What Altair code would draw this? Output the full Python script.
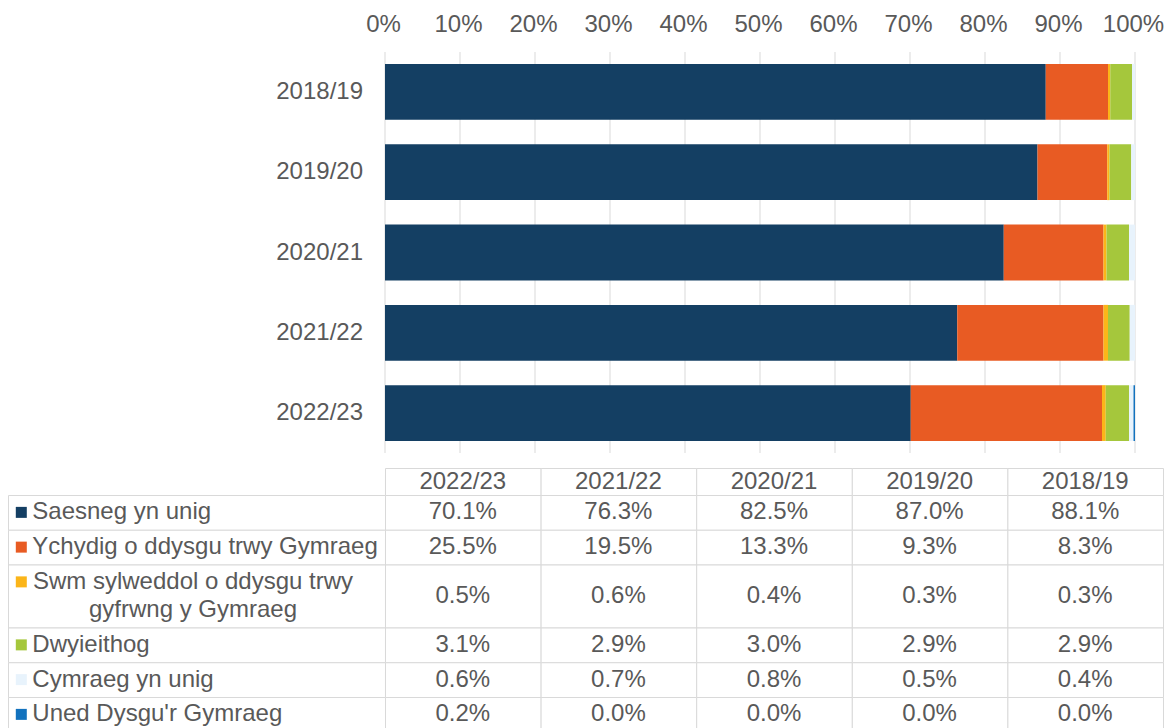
import altair as alt
import pandas as pd

# ---------------- data ----------------
bar_years = ["2018/19", "2019/20", "2020/21", "2021/22", "2022/23"]      # top -> bottom
table_years = ["2022/23", "2021/22", "2020/21", "2019/20", "2018/19"]    # table column order

series = [
    "Saesneg yn unig",
    "Ychydig o ddysgu trwy Gymraeg",
    "Swm sylweddol o ddysgu trwy gyfrwng y Gymraeg",
    "Dwyieithog",
    "Cymraeg yn unig",
    "Uned Dysgu'r Gymraeg",
]
series_labels = [
    "Saesneg yn unig",
    "Ychydig o ddysgu trwy Gymraeg",
    "Swm sylweddol o ddysgu trwy\ngyfrwng y Gymraeg",
    "Dwyieithog",
    "Cymraeg yn unig",
    "Uned Dysgu'r Gymraeg",
]
colors = ["#143F63", "#E85B23", "#FBB519", "#A5C73C", "#E8F3FC", "#1272BE"]

# values (%) in table_years order
saesneg = [70.1, 76.3, 82.5, 87.0, 88.1]
ychydig = [25.5, 19.5, 13.3, 9.3, 8.3]
swm = [0.5, 0.6, 0.4, 0.3, 0.3]
dwyieithog = [3.1, 2.9, 3.0, 2.9, 2.9]
cymraeg = [0.6, 0.7, 0.8, 0.5, 0.4]
uned = [0.2, 0.0, 0.0, 0.0, 0.0]
all_values = [saesneg, ychydig, swm, dwyieithog, cymraeg, uned]

tick_values = [0, 10, 20, 30, 40, 50, 60, 70, 80, 90, 100]
tick_labels = ["0%", "10%", "20%", "30%", "40%", "50%", "60%", "70%", "80%", "90%", "100%"]

# ---------------- style / layout ----------------
FONT = "Liberation Sans"
FS = 24
TXT = "#595959"
LINE = "#D9D9D9"
W, H = 1156, 720

BAR_X = [377, 1127]
BAR_Y = [44, 445]
GRID_TOP, GRID_BOT = 44, 445

LABEL_W = 377
COL_W = 155.6
HEAD_TOP = 460
HEAD_H = 27
ROW_H = 34.75
EXTRA_LINE = 28.25
KEY_X = 13.3
TEXT_X = 24.3
MULTI_X = 185

# ---------------- tables ----------------
bars = pd.DataFrame([
    {"year": table_years[j], "series": s, "order": i, "value": all_values[i][j] / 100}
    for i, s in enumerate(series) for j in range(len(table_years))
])
grid = pd.DataFrame({"t": [v / 100 for v in tick_values], "label": tick_labels})
cats = pd.DataFrame({"year": bar_years})

cells, htext, vtext, labels = [], [], [], []
for j, yr in enumerate(table_years):
    x0 = LABEL_W + j * COL_W
    cells.append({"x0": x0 + 0.5, "x1": x0 + COL_W + 0.5, "y0": HEAD_TOP + 0.5, "y1": HEAD_TOP + HEAD_H + 0.5})
    htext.append({"x": x0 + COL_W / 2, "y": HEAD_TOP + HEAD_H / 2, "text": yr})
top = HEAD_TOP + HEAD_H
for i, s in enumerate(series):
    nlines = series_labels[i].count("\n") + 1
    h = ROW_H + (nlines - 1) * EXTRA_LINE
    yc = top + h / 2
    cells.append({"x0": 0.5, "x1": LABEL_W + 0.5, "y0": top + 0.5, "y1": top + h + 0.5})
    for j, yr in enumerate(table_years):
        x0 = LABEL_W + j * COL_W
        cells.append({"x0": x0 + 0.5, "x1": x0 + COL_W + 0.5, "y0": top + 0.5, "y1": top + h + 0.5})
        vtext.append({"x": x0 + COL_W / 2, "y": yc, "value": all_values[i][j] / 100})
    labels.append({"series": s, "label": series_labels[i], "lines": nlines,
                   "y": yc - (nlines - 1) * EXTRA_LINE / 2})
    top += h
cells = pd.DataFrame(cells)
htext = pd.DataFrame(htext)
vtext = pd.DataFrame(vtext)
labels = pd.DataFrame(labels)

xbar = alt.Scale(domain=[0, 1], range=BAR_X, nice=False, zero=False)
ybar = alt.Scale(domain=bar_years, range=BAR_Y, paddingInner=0.305, paddingOuter=0.15)
cscale = alt.Scale(domain=series, range=colors)

# ---------------- layers ----------------
grid_l = alt.Chart(grid).mark_rule(color=LINE, strokeWidth=1).encode(
    x=alt.X("t:Q", scale=xbar, axis=None),
    y=alt.value(GRID_TOP), y2=alt.value(GRID_BOT),
)
bar_l = alt.Chart(bars).mark_bar().encode(
    x=alt.X("value:Q", stack="zero", scale=xbar, axis=None),
    y=alt.Y("year:N", scale=ybar, axis=None),
    color=alt.Color("series:N", scale=cscale, legend=None),
    order=alt.Order("order:Q"),
)
tick_l = alt.Chart(grid).mark_text(font=FONT, fontSize=FS, color=TXT, baseline="alphabetic", dx=-1.5).encode(
    x=alt.X("t:Q", scale=xbar, axis=None),
    y=alt.value(24),
    text="label:N",
)
cat_l = alt.Chart(cats).mark_text(font=FONT, fontSize=FS, color=TXT, align="right", baseline="middle").encode(
    x=alt.value(355),
    y=alt.Y("year:N", scale=ybar, axis=None),
    text="year:N",
)
cell_l = alt.Chart(cells).mark_rect(fill="white", stroke=LINE, strokeWidth=1).encode(
    x=alt.X("x0:Q", scale=None), x2="x1:Q",
    y=alt.Y("y0:Q", scale=None), y2="y1:Q",
)
head_l = alt.Chart(htext).mark_text(font=FONT, fontSize=FS, color=TXT, baseline="middle").encode(
    x=alt.X("x:Q", scale=None), y=alt.Y("y:Q", scale=None), text="text:N",
)
val_l = alt.Chart(vtext).mark_text(font=FONT, fontSize=FS, color=TXT, baseline="middle").encode(
    x=alt.X("x:Q", scale=None), y=alt.Y("y:Q", scale=None),
    text=alt.Text("value:Q", format=".1%"),
)
key_l = alt.Chart(labels).mark_point(shape="square", filled=True, size=121, opacity=1).encode(
    x=alt.value(KEY_X), y=alt.Y("y:Q", scale=None),
    color=alt.Color("series:N", scale=cscale, legend=None),
)
lab1_l = alt.Chart(labels).transform_filter("datum.lines == 1").mark_text(
    font=FONT, fontSize=FS, color=TXT, align="left", baseline="middle"
).encode(x=alt.value(TEXT_X), y=alt.Y("y:Q", scale=None), text="label:N")
lab2_l = alt.Chart(labels).transform_filter("datum.lines > 1").mark_text(
    font=FONT, fontSize=FS, color=TXT, align="center", baseline="middle",
    lineBreak="\n", lineHeight=EXTRA_LINE,
).encode(x=alt.value(MULTI_X), y=alt.Y("y:Q", scale=None), text="label:N")

chart = alt.layer(
    grid_l, bar_l, tick_l, cat_l, cell_l, head_l, val_l, key_l, lab1_l, lab2_l
).resolve_scale(x="independent", y="independent").properties(
    width=W, height=H, autosize=alt.AutoSizeParams(type="none"), padding=0
).configure_view(stroke=None)

chart.save("out.html", embed_options={"renderer": "svg", "actions": False})
